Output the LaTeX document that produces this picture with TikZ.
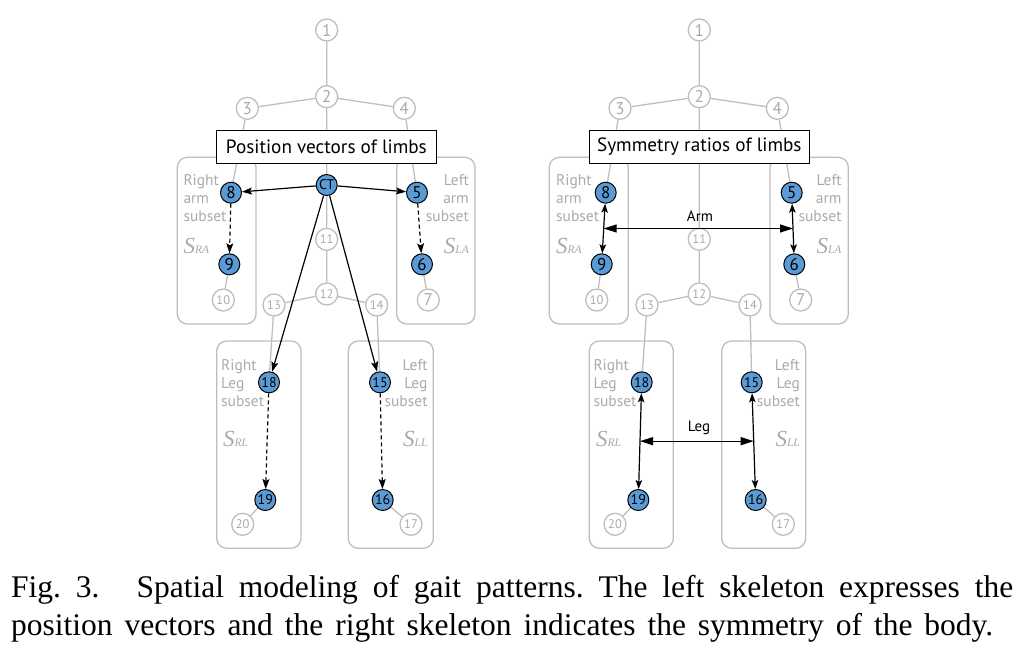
\documentclass[tikz,border=0pt]{standalone}
\usepackage{fontspec}
\setmainfont{Liberation Serif}
\setsansfont{PT Sans}
\usetikzlibrary{arrows.meta,calc}
\definecolor{lg}{RGB}{190,190,190}
\definecolor{tg}{RGB}{170,170,170}
\definecolor{nb}{RGB}{91,155,213}
\pgfdeclarelayer{bg}
\pgfsetlayers{bg,main}
\newcommand{\setlab}[2]{{\fontsize{23}{23}\selectfont\itshape #1}{\fontsize{11.5}{11.5}\selectfont\itshape #2}}
\begin{document}
\frenchspacing
\begin{tikzpicture}[x=1pt,y=-1pt,
  gn/.style={circle,draw=lg,line width=1.3pt,fill=white,minimum size=22pt,inner sep=0pt,text=tg,font=\sffamily\fontsize{17}{17}\selectfont},
  gns/.style={gn,font=\sffamily\fontsize{12.5}{12.5}\selectfont},
  bn/.style={circle,draw=black,line width=1pt,fill=nb,minimum size=21pt,inner sep=0pt,font=\sffamily\fontsize{17}{17}\selectfont},
  bns/.style={bn,font=\sffamily\fontsize{14}{14}\selectfont},
  ge/.style={draw=lg,line width=1.3pt},
  subbox/.style={draw=lg,line width=1.3pt,rounded corners=10pt},
  ttl/.style={draw=black,line width=1.1pt,fill=white,inner sep=0pt,font=\sffamily\fontsize{19.2}{19.2}\selectfont},
  lab/.style={text=tg,font=\sffamily\fontsize{15.5}{18}\selectfont,inner sep=0pt},
  slab/.style={text=tg,inner sep=0pt},
  arr/.style={-{Stealth[length=10pt,width=7pt,inset=2pt]},line width=1.2pt,black},
  darr/.style={arr,dash pattern=on 4pt off 3pt},
  barr/.style={{Stealth[length=9pt,width=6.5pt,inset=2pt]}-{Stealth[length=9pt,width=6.5pt,inset=2pt]},line width=1.2pt,black},
  harr/.style={{Triangle[length=13pt,width=8pt]}-{Triangle[length=13pt,width=8pt]},line width=1.3pt,black},
  albl/.style={inner sep=0pt,font=\sffamily\fontsize{15}{15}\selectfont},
  capt/.style={inner sep=0pt,anchor=base west,font=\fontsize{31.5}{31.5}\selectfont}
]
\useasboundingbox (0,0) rectangle (1028,657);

% ---------------- left skeleton ----------------
\node[gn] (a1) at (326.7,30) {1};
\node[gn] (a2) at (326.7,96.7) {2};
\node[gn] (a3) at (247.3,108.3) {3};
\node[gn] (a4) at (404.3,108.3) {4};
\node[bn] (a8) at (231,192.7) {8};
\node[bns] (act) at (326.7,185) {CT};
\node[bn] (a5) at (417,192.7) {5};
\node[bn] (a9) at (229.3,264.3) {9};
\node[bn] (a6) at (422,264.3) {6};
\node[gns] (a10) at (223.3,300) {10};
\node[gn] (a7) at (428.3,300) {7};
\node[gns] (a11) at (326.7,239.3) {11};
\node[gns] (a12) at (326.7,294) {12};
\node[gns] (a13) at (274,305) {13};
\node[gns] (a14) at (376.7,305) {14};
\node[bns] (a18) at (269,382.3) {18};
\node[bns] (a15) at (380,382.3) {15};
\node[bns] (a19) at (265.3,500) {19};
\node[bns] (a16) at (382.7,500) {16};
\node[gns] (a20) at (242.7,524.3) {20};
\node[gns] (a17) at (411,524.3) {17};

\node[ttl,minimum width=220.7pt,minimum height=32.6pt] (at) at (326.4,147) {Position vectors of limbs};

\begin{pgfonlayer}{bg}
\draw[subbox] (177.3,157.3) rectangle (256,324);
\draw[subbox] (396.7,157.3) rectangle (475,324);
\draw[subbox] (216.7,341) rectangle (301,548.3);
\draw[subbox] (348.3,341) rectangle (433.3,548.3);
\draw[ge] (a1) -- (a2) (a2) -- (a3) (a2) -- (a4) (a2) -- (act) (act) -- (a11)
  (a3) -- (a8) (a4) -- (a5) (a9) -- (a10) (a6) -- (a7)
  (a11) -- (a12) (a12) -- (a13) (a12) -- (a14) (a13) -- (a18) (a14) -- (a15)
  (a19) -- (a20) (a16) -- (a17);
\end{pgfonlayer}

\node[lab,anchor=north west,align=left] (alra) at (183.3,174) {Right\\arm\\subset};
\node[lab,anchor=north east,align=right] (alla) at (469,174) {Left\\arm\\subset};
\node[lab,anchor=north west,align=left] (alrl) at (221,359.3) {Right\\Leg\\subset};
\node[lab,anchor=north east,align=right] (alll) at (427.7,359.3) {Left\\Leg\\subset};
\node[slab,anchor=base west] (asra) at (183.3,253) {\setlab{S}{RA}};
\node[slab,anchor=base east] (asla) at (469,253) {\setlab{S}{LA}};
\node[slab,anchor=base west] (asrl) at (223,446.7) {\setlab{S}{RL}};
\node[slab,anchor=base east] (asll) at (427.7,446.7) {\setlab{S}{LL}};

\draw[arr] (act) -- (a8);
\draw[arr] (act) -- (a5);
\draw[arr] (act) -- (a18);
\draw[arr] (act) -- (a15);
\draw[darr] (a8) -- (a9);
\draw[darr] (a5) -- (a6);
\draw[darr] (a18) -- (a19);
\draw[darr] (a15) -- (a16);

% ---------------- right skeleton ----------------
\node[gn] (b1) at (699.3,30) {1};
\node[gn] (b2) at (699.3,96.7) {2};
\node[gn] (b3) at (620,108.3) {3};
\node[gn] (b4) at (777.3,108.3) {4};
\node[bn] (b8) at (605.7,192.7) {8};
\node[bn] (b5) at (791.7,192.7) {5};
\node[bn] (b9) at (601.7,264.3) {9};
\node[bn] (b6) at (794.3,264.3) {6};
\node[gns] (b10) at (596.7,300) {10};
\node[gn] (b7) at (800.7,300) {7};
\node[gns] (b11) at (699.3,239.3) {11};
\node[gns] (b12) at (699.3,294) {12};
\node[gns] (b13) at (647,305) {13};
\node[gns] (b14) at (750,305) {14};
\node[bns] (b18) at (641.7,382.3) {18};
\node[bns] (b15) at (751.7,382.3) {15};
\node[bns] (b19) at (638.3,500) {19};
\node[bns] (b16) at (755.7,500) {16};
\node[gns] (b20) at (615,524.3) {20};
\node[gns] (b17) at (783.3,524.3) {17};

\node[ttl,minimum width=220pt,minimum height=32.6pt] (bt) at (699.3,147) {Symmetry ratios of limbs};

\begin{pgfonlayer}{bg}
\draw[subbox] (549.3,157.3) rectangle (628.3,324);
\draw[subbox] (770,157.3) rectangle (848.3,324);
\draw[subbox] (589.3,341) rectangle (673.3,548.3);
\draw[subbox] (721.7,341) rectangle (805.7,548.3);
\draw[ge] (b1) -- (b2) (b2) -- (b3) (b2) -- (b4) (b2) -- (b11)
  (b3) -- (b8) (b4) -- (b5) (b9) -- (b10) (b6) -- (b7)
  (b11) -- (b12) (b12) -- (b13) (b12) -- (b14) (b13) -- (b18) (b14) -- (b15)
  (b19) -- (b20) (b16) -- (b17);
\end{pgfonlayer}

\node[lab,anchor=north west,align=left] (blra) at (556,174) {Right\\arm\\subset};
\node[lab,anchor=north east,align=right] (blla) at (841.7,174) {Left\\arm\\subset};
\node[lab,anchor=north west,align=left] (blrl) at (593.3,359.3) {Right\\Leg\\subset};
\node[lab,anchor=north east,align=right] (blll) at (800,359.3) {Left\\Leg\\subset};
\node[slab,anchor=base west] (bsra) at (556,253) {\setlab{S}{RA}};
\node[slab,anchor=base east] (bsla) at (841.7,253) {\setlab{S}{LA}};
\node[slab,anchor=base west] (bsrl) at (596,446.7) {\setlab{S}{RL}};
\node[slab,anchor=base east] (bsll) at (800,446.7) {\setlab{S}{LL}};

\draw[barr] (b8) -- (b9);
\draw[barr] (b5) -- (b6);
\draw[barr] (b18) -- (b19);
\draw[barr] (b15) -- (b16);
\coordinate (barm1) at ($(b8)!0.5!(b9)$);
\coordinate (barm2) at ($(b5)!0.5!(b6)$);
\coordinate (bleg1) at ($(b18)!0.5!(b19)$);
\coordinate (bleg2) at ($(b15)!0.5!(b16)$);
\draw[harr] (barm1) -- (barm2);
\draw[harr] (bleg1) -- (bleg2);
\node[albl] (barml) at (700,216) {Arm};
\node[albl] (blegl) at (699,428.3) {Leg};

% ---------------- caption ----------------
\node[capt] (cap1) at (11,597.3) {\makebox[1002pt][s]{Fig. 3.\hspace{0.7em} Spatial modeling of gait patterns. The left skeleton expresses the}};
\node[capt] (cap2) at (11,635.7) {\makebox[982pt][s]{position vectors and the right skeleton indicates the symmetry of the body.}};
\end{tikzpicture}
\end{document}
